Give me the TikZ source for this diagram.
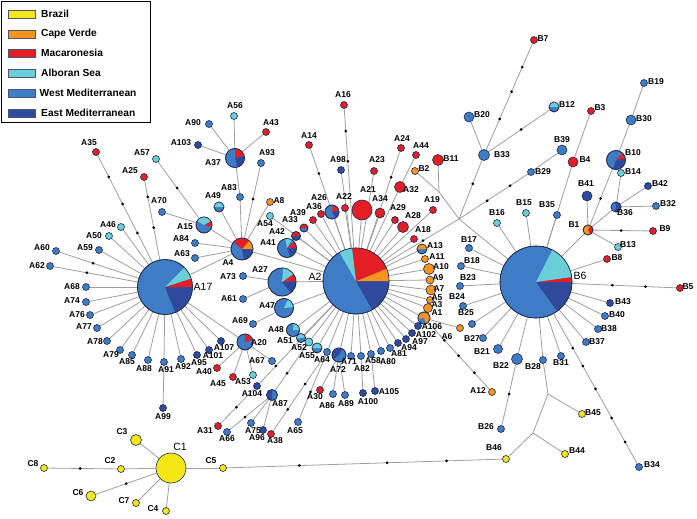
\documentclass[tikz,border=0pt]{standalone}
\usepackage{fontspec}
\setmainfont{Liberation Sans}
\usetikzlibrary{calc}
\pgfdeclarelayer{bg}
\pgfsetlayers{bg,main}
\definecolor{cy}{HTML}{F5E616}
\definecolor{co}{HTML}{F7941D}
\definecolor{cr}{HTML}{E31E24}
\definecolor{cc}{HTML}{6BCFD9}
\definecolor{cb}{HTML}{3F7CC6}
\definecolor{cd}{HTML}{2F4A9C}
\definecolor{ol}{HTML}{1E2B4D}
\definecolor{eg}{HTML}{9E9E9E}
\tikzset{
 hap/.style={circle,draw=ol,line width=0.6pt,inner sep=0pt,outer sep=0pt},
 lab/.style={inner sep=0pt,font=\bfseries\fontsize{8.5}{9}\selectfont},
 hub/.style={inner sep=0pt,font=\fontsize{10.5}{11}\selectfont},
 dotn/.style={circle,fill=black,inner sep=0pt,minimum size=3pt},
 edge/.style={draw=eg,line width=0.8pt},
 sw/.style={draw=ol!80,line width=0.6pt,minimum width=27pt,minimum height=8pt,inner sep=0pt},
 legt/.style={anchor=west,inner sep=0pt,font=\bfseries\fontsize{10.2}{11}\selectfont},
}
\newcommand\hapn[7]{\node[hap,fill=#5,minimum size=#4pt] (#1) at (#2,#3) {};\node[lab] (L#1) at (#6,#7) {#1};}
\newcommand\pien[6]{\node[hap,fill=#5,minimum size=2*#4pt] (#1) at (#2,#3) {};%
 \foreach \a/\b/\c in {#6}{\fill[fill=\c] (#1.center) -- ++(\a:#4pt) arc[start angle=\a,end angle=\b,radius=#4pt] -- cycle;}%
 \draw[ol,line width=0.6pt] (#1.center) circle[radius=#4pt];}
\newcommand\mdot[4]{\node[dotn] (#1) at ($(#2)!#4!(#3)$) {};}
\begin{document}
\begin{tikzpicture}[x=1pt,y=-1pt]
\useasboundingbox (0,0) rectangle (697,519);
% legend
\node[draw=black,line width=0.8pt,minimum width=149pt,minimum height=121pt,inner sep=0pt,anchor=north west] (leg) at (1,1) {};
\node[sw,fill=cy] (s1) at (21.5,14) {};\node[legt] (t1) at (41,14) {Brazil};
\node[sw,fill=co] (s2) at (21.5,34) {};\node[legt] (t2) at (41,34) {Cape Verde};
\node[sw,fill=cr] (s3) at (21.5,53) {};\node[legt] (t3) at (41,53) {Macaronesia};
\node[sw,fill=cc] (s4) at (21.5,73) {};\node[legt] (t4) at (41,73) {Alboran Sea};
\node[sw,fill=cb] (s5) at (21.5,93) {};\node[legt] (t5) at (39.5,93) {West Mediterranean};
\node[sw,fill=cd] (s6) at (21.5,113) {};\node[legt] (t6) at (41,113) {East Mediterranean};

% hubs
\pien{A17}{165}{287}{27.5}{cb}{-68/0/cd,0/18/cr,18/45/cc}
\node[hub] (LA17) at (203,287) {A17};
\pien{A2}{356}{281}{33}{cb}{-61/0/cd,0/22/co,22/97/cr,97/120/cc}
\node[hub] (LA2) at (315,277) {A2};
\pien{B6}{536}{282}{36}{cb}{-54/0/cd,0/8/cr,8/63/cc}
\node[hub] (LB6) at (580,276) {B6};
\node[hap,fill=cy,minimum size=30pt] (C1) at (171,468) {};
\node[hub] (LC1) at (180,447) {C1};

% pie nodes
\pien{A15}{204}{225}{8}{cb}{-15/30/cr,30/150/cc}\node[lab] (LA15) at (185,227) {A15};
\pien{A37}{235}{158}{9.5}{cb}{-75/15/cd,15/90/cr}\node[lab] (LA37) at (213,163) {A37};
\pien{A41}{242}{249}{11}{cb}{-80/0/cd,0/50/co,50/140/cr}\node[lab] (LA41) at (268,243) {A41};
\node[lab] (LA4) at (228,263) {A4};
\pien{A49}{219}{207}{5}{cb}{0/180/cc}\node[lab] (LA49) at (213,196) {A49};
\pien{A26}{332}{212}{7}{cb}{-60/15/cd,15/80/cr}\node[lab] (LA26) at (319,198) {A26};
\pien{U1}{287}{248}{9.5}{cb}{-70/0/cd,0/40/cr,60/100/cc}
\pien{A33}{304}{228}{4}{cb}{0/180/cr}\node[lab] (LA33) at (290,220) {A33};
\pien{A42}{296}{236}{4.5}{cd}{0/180/cr}\node[lab] (LA42) at (277,232) {A42};
\pien{A27}{282}{282}{14}{cb}{-50/5/cd,5/35/cr,35/85/cc}\node[lab] (LA27) at (260,270) {A27};
\pien{A47}{284}{308}{9.5}{cb}{5/65/cc}\node[lab] (LA47) at (267,306) {A47};
\pien{A48}{293}{330}{6.5}{cb}{0/85/cc}\node[lab] (LA48) at (276,330) {A48};
\pien{A51}{301}{338}{4.5}{cb}{10/190/cc}\node[lab] (LA51) at (285,341) {A51};
\pien{A55}{317}{348}{5}{cb}{0/180/cc}\node[lab] (LA55) at (307,356) {A55};
\pien{A20}{245}{342}{8}{cb}{15/90/cr}\node[lab] (LA20) at (259,343) {A20};
\pien{A72}{339}{355}{7}{cb}{60/220/cd}\node[lab] (LA72) at (338,370) {A72};
\pien{A87}{272}{395}{5.5}{cb}{90/270/cd}\node[lab] (LA87) at (280,404) {A87};
\pien{A13}{422}{249}{5}{cb}{0/180/co}\node[lab] (LA13) at (435,246) {A13};
\pien{A1}{424}{318}{6}{co}{190/290/cb}\node[lab] (LA1) at (437,313) {A1};
\pien{B12}{554}{107}{5}{cb}{0/180/cc}\node[lab] (LB12) at (567,105) {B12};
\pien{B10}{616}{160}{9.5}{cb}{-110/10/cd,10/45/cr}\node[lab] (LB10) at (633,153) {B10};
\pien{B36}{616}{207}{5}{cd}{100/250/cb}\node[lab] (LB36) at (625,213) {B36};
\pien{B1}{588}{230}{5}{co}{-60/60/cr}\node[lab] (LB1) at (574,225) {B1};

% simple nodes
\hapn{A35}{96}{152}{7}{cr}{89}{143}
\hapn{A25}{144}{177}{7}{cr}{130}{171}
\hapn{A57}{156}{159}{7}{cc}{142}{153}
\hapn{A70}{162}{212}{7}{cb}{159}{201}
\hapn{A46}{121}{227}{7}{cc}{108}{225}
\hapn{A50}{109}{236}{7}{cc}{94}{236}
\hapn{A60}{56}{251}{7}{cb}{42}{248}
\hapn{A59}{99}{250}{7}{cb}{85}{248}
\hapn{A62}{50}{266}{7}{cb}{37}{266}
\hapn{A68}{86}{287}{7}{cb}{72}{287}
\hapn{A74}{86}{302}{7}{cb}{72}{301}
\hapn{A76}{90}{315}{7}{cb}{77}{315}
\hapn{A77}{97}{328}{7}{cb}{84}{327}
\hapn{A78}{107}{341}{7}{cb}{95}{342}
\hapn{A79}{120}{350}{7}{cb}{111}{355}
\hapn{A85}{132}{355}{7}{cb}{127}{362}
\hapn{A88}{148}{360}{7}{cb}{144}{369}
\hapn{A91}{164}{362}{7}{cb}{166}{370}
\hapn{A92}{181}{359}{7}{cb}{183}{367}
\hapn{A95}{197}{355}{7}{cd}{199}{363}
\hapn{A101}{209}{350}{7}{cd}{213}{356}
\hapn{A107}{221}{341}{7}{cd}{224}{348}
\hapn{A99}{163}{408}{7}{cd}{163}{417}
\hapn{A40}{217}{368}{7}{cr}{204}{372}
\hapn{A45}{233}{377}{7}{cr}{218}{384}
\hapn{A53}{253}{375}{7}{cc}{243}{382}
\hapn{A84}{195}{243}{7}{cb}{181}{239}
\hapn{A63}{195}{258}{7}{cb}{182}{254}
\hapn{A90}{209}{124}{7}{cb}{193}{123}
\hapn{A103}{198}{145}{7}{cd}{181}{143}
\hapn{A56}{234}{116}{7}{cc}{235}{106}
\hapn{A43}{266}{132}{7}{cr}{271}{123}
\hapn{A93}{261}{163}{7}{cb}{267}{153}
\hapn{A83}{240}{197}{7}{cb}{229}{188}
\hapn{A8}{270}{202}{7}{co}{279}{201}
\hapn{A54}{270}{216}{7}{cc}{265}{224}
\hapn{A73}{243}{276}{7}{cb}{228}{277}
\hapn{A61}{243}{299}{7}{cb}{229}{299}
\hapn{A69}{253}{324}{7}{cb}{240}{321}
\hapn{A67}{272}{361}{7}{cb}{257}{361}
\hapn{A104}{257}{386}{7}{cd}{252}{394}
\hapn{A31}{218}{426}{7}{cr}{205}{431}
\hapn{A66}{227}{432}{7}{cb}{227}{439}
\hapn{A75}{251}{423}{7}{cb}{253}{431}
\hapn{A96}{263}{430}{7}{cd}{257}{438}
\hapn{A38}{271}{434}{7}{cr}{275}{441}
\hapn{A65}{298}{422}{7}{cb}{295}{431}
\hapn{A30}{320}{390}{7}{cr}{315}{397}
\hapn{A86}{333}{394}{7}{cb}{327}{406}
\hapn{A89}{345}{395}{7}{cb}{346}{404}
\hapn{A100}{363}{393}{7}{cd}{368}{402}
\hapn{A105}{375}{391}{7}{cd}{389}{392}
\hapn{A52}{309}{342}{8}{cc}{299}{348}
\hapn{A64}{327}{352}{7}{cb}{322}{360}
\hapn{A71}{351}{356}{7}{cb}{349}{362}
\hapn{A82}{361}{356}{7}{cb}{362}{369}
\hapn{A58}{371}{354}{7}{cb}{373}{361}
\hapn{A80}{381}{351}{7}{cb}{388}{362}
\hapn{A81}{390}{348}{7}{cb}{399}{354}
\hapn{A94}{398}{343}{7}{cd}{409}{348}
\hapn{A97}{406}{339}{7}{cd}{420}{342}
\hapn{A102}{412}{333}{7}{cd}{426}{335}
\hapn{A106}{418}{326}{7}{cd}{432}{327}
\hapn{A3}{428}{308}{9}{co}{437}{305}
\hapn{A5}{430}{300}{7}{co}{437}{298}
\hapn{A7}{431}{290}{10}{co}{439}{289}
\hapn{A9}{430}{280}{8}{co}{438}{278}
\hapn{A10}{429}{269}{11}{co}{441}{267}
\hapn{A11}{425}{259}{7}{co}{437}{257}
\hapn{A6}{460}{328}{7}{co}{447}{337}
\hapn{A12}{492}{392}{7}{co}{478}{391}
\hapn{A18}{414}{239}{7}{cr}{423}{230}
\hapn{A19}{433}{210}{7}{cr}{432}{200}
\hapn{A28}{403}{227}{11}{cr}{413}{216}
\hapn{A29}{395}{220}{7}{cr}{398}{208}
\hapn{A32}{400}{187}{11}{cr}{411}{190}
\hapn{A44}{416}{155}{7}{cr}{421}{146}
\hapn{A24}{401}{148}{7}{cr}{402}{139}
\hapn{A23}{374}{171}{7}{cr}{377}{160}
\hapn{A98}{341}{170}{7}{cd}{338}{160}
\hapn{A16}{344}{105}{7}{cr}{343}{95}
\hapn{A14}{309}{145}{7}{cr}{309}{136}
\hapn{A21}{362}{210}{20}{cr}{368}{190}
\hapn{A34}{380}{213}{10}{cr}{380}{199}
\hapn{A22}{345}{208}{7}{cr}{344}{197}
\hapn{A36}{321}{214}{7}{cr}{314}{207}
\hapn{A39}{313}{220}{7}{cr}{298}{213}
% B nodes
\hapn{B7}{534}{40}{7}{cr}{543}{39}
\hapn{B20}{469}{117}{10}{cb}{482}{115}
\hapn{B33}{484}{155}{11}{cb}{502}{155}
\hapn{B3}{591}{111}{7}{cr}{600}{108}
\hapn{B19}{644}{83}{7}{cb}{656}{82}
\hapn{B30}{631}{120}{10}{cb}{644}{119}
\hapn{B39}{562}{150}{10}{cb}{562}{140}
\hapn{B4}{573}{162}{10}{cr}{585}{160}
\hapn{B29}{531}{172}{7}{cb}{543}{172}
\hapn{B11}{438}{160}{11}{cr}{451}{159}
\hapn{B2}{415}{171}{7}{co}{424}{169}
\hapn{B14}{621}{173}{7}{cc}{633}{172}
\hapn{B41}{587}{196}{10}{cd}{586}{184}
\hapn{B42}{648}{186}{7}{cd}{660}{184}
\hapn{B32}{656}{206}{7}{cb}{668}{204}
\hapn{B15}{526}{213}{7}{cc}{524}{203}
\hapn{B35}{557}{215}{7}{cb}{547}{205}
\hapn{B16}{497}{223}{7}{cc}{497}{213}
\hapn{B9}{653}{231}{7}{cr}{665}{229}
\hapn{B13}{618}{247}{7}{cc}{628}{245}
\hapn{B8}{607}{259}{7}{cr}{617}{258}
\hapn{B5}{680}{288}{7}{cr}{688}{287}
\hapn{B43}{610}{303}{7}{cd}{623}{302}
\hapn{B40}{605}{316}{7}{cb}{617}{315}
\hapn{B38}{598}{329}{7}{cb}{609}{329}
\hapn{B37}{586}{342}{7}{cb}{597}{342}
\hapn{B31}{561}{356}{7}{cb}{561}{363}
\hapn{B28}{543}{360}{7}{cb}{533}{367}
\hapn{B22}{517}{359}{11}{cb}{501}{366}
\hapn{B21}{498}{349}{9}{cb}{482}{352}
\hapn{B27}{483}{338}{7}{cb}{472}{339}
\hapn{B25}{472}{324}{7}{cb}{466}{313}
\hapn{B24}{463}{306}{7}{cb}{457}{297}
\hapn{B23}{460}{286}{7}{cb}{468}{278}
\hapn{B18}{461}{266}{7}{cb}{472}{261}
\hapn{B17}{469}{248}{7}{cb}{469}{240}
\hapn{B26}{501}{429}{7}{cb}{486}{427}
\hapn{B45}{582}{414}{7}{cy}{593}{413}
\hapn{B44}{565}{454}{7}{cy}{577}{451}
\hapn{B46}{506}{459}{7}{cy}{494}{448}
\hapn{B34}{639}{467}{7}{cb}{652}{465}
% C nodes
\hapn{C3}{136}{440}{11}{cy}{122}{432}
\hapn{C2}{121}{469}{7}{cy}{110}{461}
\hapn{C8}{44}{468}{7}{cy}{33}{464}
\hapn{C5}{223}{468}{7}{cy}{211}{461}
\hapn{C6}{91}{496}{10}{cy}{78}{493}
\hapn{C7}{136}{503}{7}{cy}{124}{501}
\hapn{C4}{166}{511}{7}{cy}{153}{509}
% junctions
\coordinate (J1) at (439,192);
\coordinate (J2) at (459,219);
\coordinate (J3) at (548,394);
\coordinate (J4) at (533,433);
% mutation dots
\mdot{d1}{A35}{A17}{0.185}\mdot{d2}{A35}{A17}{0.385}\mdot{d3}{A35}{A17}{0.6}
\mdot{d4}{A25}{A17}{0.18}\mdot{d5}{A25}{A17}{0.46}
\mdot{d6}{A57}{A15}{0.44}
\mdot{d7}{A60}{A17}{0.34}
\mdot{d8}{A62}{A17}{0.32}
\mdot{d9}{C8}{C2}{0.47}
\mdot{d10}{C6}{C1}{0.44}
\mdot{d11}{A93}{A41}{0.42}
\mdot{d12}{A14}{A2}{0.21}
\mdot{d13}{A16}{A2}{0.148}\mdot{d14}{A16}{A2}{0.32}
\mdot{d15}{A24}{A2}{0.22}
\mdot{d16}{A12}{A1}{0.26}\mdot{d17}{A12}{A1}{0.49}\mdot{d18}{A12}{A1}{0.70}
\mdot{d19}{A31}{A104}{0.47}
\mdot{d20}{A104}{A2}{0.19}
\mdot{d21}{A66}{A87}{0.4}
\mdot{d22}{A87}{A52}{0.41}
\mdot{d23}{A38}{A64}{0.30}\mdot{d24}{A38}{A64}{0.61}
\mdot{d25}{A65}{A64}{0.43}
\mdot{d26}{B7}{B33}{0.235}\mdot{d27}{B7}{B33}{0.45}\mdot{d28}{B7}{B33}{0.687}
\mdot{d29}{B12}{B33}{0.47}
\mdot{d30}{B33}{J2}{0.45}
\mdot{d31}{B29}{J2}{0.29}\mdot{d32}{B29}{J2}{0.61}
\mdot{d33}{J2}{A2}{0.35}
\mdot{d34}{B1}{B10}{0.45}
\mdot{d35}{B1}{B9}{0.51}
\mdot{d36}{B6}{B5}{0.53}\mdot{d37}{B6}{B5}{0.76}
\mdot{d38}{B6}{B34}{0.357}\mdot{d39}{B6}{B34}{0.454}\mdot{d40}{B6}{B34}{0.578}\mdot{d41}{B6}{B34}{0.735}\mdot{d42}{B6}{B34}{0.865}
\mdot{d43}{B22}{B26}{0.5}
\mdot{d44}{C5}{B46}{0.27}\mdot{d45}{C5}{B46}{0.58}\mdot{d46}{C5}{B46}{0.79}
% edges
\begin{pgfonlayer}{bg}
\foreach \n in {A35,A25,A46,A50,A60,A59,A62,A68,A74,A76,A77,A78,A79,A85,A88,A91,A92,A95,A101,A107,A20,A41}
  \draw[edge] (A17) -- (\n);
\draw[edge] (A91) -- (A99);
\foreach \n in {A40,A45,A53,A67} \draw[edge] (A20) -- (\n);
\foreach \n in {A15,A84,A63,A49,A83,A93,A8,A2} \draw[edge] (A41) -- (\n);
\foreach \n in {A57,A70} \draw[edge] (A15) -- (\n);
\draw[edge] (A83) -- (A37);
\foreach \n in {A90,A103,A56,A43} \draw[edge] (A37) -- (\n);
\foreach \n in {A14,A16,A98,A23,A24,A32,A21,A34,A22,A26,A36,A39,A33,A42,U1,A54,A27,A47,A48,A51,A52,A55,A64,A72,A71,A82,A58,A80,A81,A94,A97,A102,A106,A1,A3,A5,A7,A9,A10,A11,A13,A18,A28,A29,A19,A104,J2}
  \draw[edge] (A2) -- (\n);
\draw[edge] (A32) -- (A44);
\draw[edge] (A27) -- (A73);
\draw[edge] (A27) -- (A61);
\draw[edge] (A47) -- (A69);
\draw[edge] (A104) -- (A31);
\foreach \n in {A52,A66,A75,A96} \draw[edge] (A87) -- (\n);
\foreach \n in {A38,A65} \draw[edge] (A64) -- (\n);
\foreach \n in {A30,A86,A89} \draw[edge] (A72) -- (\n);
\draw[edge] (A82) -- (A100);
\draw[edge] (A58) -- (A105);
\draw[edge] (A1) -- (A6);
\draw[edge] (A1) -- (A12);
\draw[edge] (B2) -- (J1);
\draw[edge] (B11) -- (J1);
\draw[edge] (J1) -- (J2);
\draw[edge] (J2) -- (B6);
\draw[edge] (J2) -- (B33);
\draw[edge] (J2) -- (B29);
\draw[edge] (B29) -- (B39);
\foreach \n in {B20,B12,B7} \draw[edge] (B33) -- (\n);
\foreach \n in {B16,B15,B35,B4,B1,B8,B43,B40,B38,B37,B31,B28,B22,B21,B27,B25,B24,B23,B18,B17,B5,B34}
  \draw[edge] (B6) -- (\n);
\draw[edge] (B4) -- (B3);
\foreach \n in {B41,B36,B9,B13,B10} \draw[edge] (B1) -- (\n);
\draw[edge] (B10) -- (B30);
\draw[edge] (B30) -- (B19);
\foreach \n in {B14,B42,B32} \draw[edge] (B36) -- (\n);
\draw[edge] (B22) -- (B26);
\draw[edge] (B28) -- (J3);
\draw[edge] (J3) -- (B45);
\draw[edge] (J3) -- (J4);
\draw[edge] (J4) -- (B44);
\draw[edge] (J4) -- (B46);
\draw[edge] (B46) -- (C5);
\foreach \n in {C3,C2,C5,C6,C7,C4} \draw[edge] (C1) -- (\n);
\draw[edge] (C2) -- (C8);
\end{pgfonlayer}
\end{tikzpicture}
\end{document}
